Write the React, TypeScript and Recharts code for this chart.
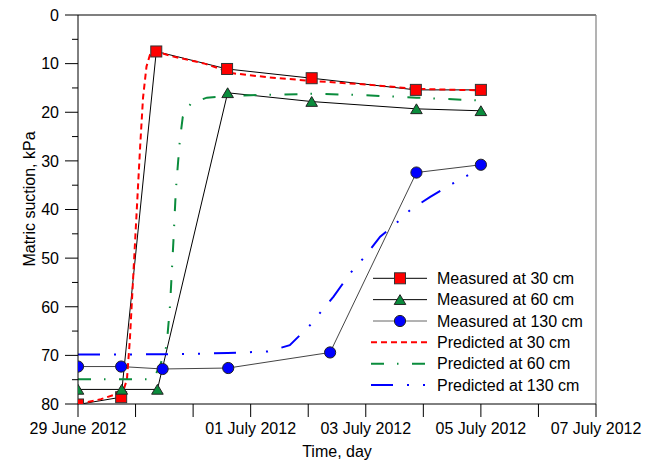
import React from 'react';
import { LineChart, Line, XAxis, YAxis, ReferenceLine, Legend } from 'recharts';

// ---- axis ticks ----
const xTicks = [0, 1, 2, 3, 4, 5, 6, 7, 8, 9];
const xTickLabels: Record<number, string> = {
  0: '29 June 2012',
  3: '01 July 2012',
  5: '03 July 2012',
  7: '05 July 2012',
  9: '07 July 2012',
};
const yTicks = [0, 5, 10, 15, 20, 25, 30, 35, 40, 45, 50, 55, 60, 65, 70, 75, 80];
const yMajorTicks = [0, 10, 20, 30, 40, 50, 60, 70, 80];

// ---- measured series (t = days from axis origin, v = kPa) ----
const measured30 = [
  { t: 0, v: 80.1 },
  { t: 0.75, v: 78.6 },
  { t: 1.36, v: 7.5 },
  { t: 2.59, v: 11.1 },
  { t: 4.06, v: 13.0 },
  { t: 5.87, v: 15.4 },
  { t: 7.0, v: 15.4 },
];
const measured60 = [
  { t: 0, v: 77.0 },
  { t: 0.76, v: 77.0 },
  { t: 1.38, v: 77.0 },
  { t: 2.6, v: 16.0 },
  { t: 4.06, v: 17.8 },
  { t: 5.88, v: 19.3 },
  { t: 7.0, v: 19.7 },
];
const measured130 = [
  { t: 0, v: 72.3 },
  { t: 0.75, v: 72.3 },
  { t: 1.47, v: 72.8 },
  { t: 2.61, v: 72.6 },
  { t: 4.38, v: 69.4 },
  { t: 5.88, v: 32.4 },
  { t: 7.0, v: 30.8 },
];

// ---- predicted series ----
const predicted30 = [
  { t: 0, v: 80 },
  { t: 0.4, v: 79.0 },
  { t: 0.78, v: 77.5 },
  { t: 0.85, v: 75 },
  { t: 0.9, v: 67 },
  { t: 1.08, v: 27 },
  { t: 1.13, v: 17 },
  { t: 1.19, v: 10.6 },
  { t: 1.25, v: 8.2 },
  { t: 1.34, v: 7.4 },
  { t: 1.6, v: 8.4 },
  { t: 2.2, v: 10.0 },
  { t: 2.7, v: 12.0 },
  { t: 3.3, v: 12.8 },
  { t: 4.0, v: 13.5 },
  { t: 5.0, v: 14.3 },
  { t: 5.88, v: 15.2 },
  { t: 7.0, v: 15.5 },
];
const predicted60 = [
  { t: 0, v: 74.9 },
  { t: 0.7, v: 74.9 },
  { t: 1.3, v: 74.9 },
  { t: 1.42, v: 72.3 },
  { t: 1.54, v: 68 },
  { t: 1.6, v: 59.6 },
  { t: 1.66, v: 46 },
  { t: 1.7, v: 36 },
  { t: 1.77, v: 25.7 },
  { t: 1.82, v: 21 },
  { t: 1.96, v: 18.2 },
  { t: 2.24, v: 17.0 },
  { t: 2.5, v: 16.8 },
  { t: 3.0, v: 16.5 },
  { t: 4.1, v: 16.2 },
  { t: 5.0, v: 16.5 },
  { t: 5.88, v: 17.0 },
  { t: 7.0, v: 17.6 },
];
const predicted130 = [
  { t: 0, v: 69.8 },
  { t: 1.0, v: 69.8 },
  { t: 2.0, v: 69.7 },
  { t: 2.6, v: 69.5 },
  { t: 3.3, v: 69.2 },
  { t: 3.68, v: 67.9 },
  { t: 4.03, v: 63.8 },
  { t: 4.44, v: 57.9 },
  { t: 4.73, v: 53.1 },
  { t: 4.96, v: 50.0 },
  { t: 5.25, v: 45.6 },
  { t: 5.59, v: 42.2 },
  { t: 5.77, v: 40.1 },
  { t: 6.12, v: 37.4 },
  { t: 6.52, v: 34.6 },
  { t: 6.78, v: 32.9 },
  { t: 7.0, v: 31.8 },
];

const legendLabels = [
  'Measured at 30 cm',
  'Measured at 60 cm',
  'Measured at 130 cm',
  'Predicted at 30 cm',
  'Predicted at 60 cm',
  'Predicted at 130 cm',
];

const RED = '#ff0000';
const GREEN = '#0a8c3c';
const BLUE = '#0000ff';
const FONT = '"Liberation Sans", Arial, sans-serif';
const DASH30 = '6 4';
const DASH60 = '13 13 1.5 13.5';
const DASH130 = '22 14 2 14 2 14';

const squareShape = (cx: number, cy: number, key?: string) => (
  <rect key={key} x={cx - 5.5} y={cy - 5.5} width={11} height={11} fill={RED} stroke="#333" strokeWidth={1} />
);
const triangleShape = (cx: number, cy: number, key?: string) => (
  <polygon
    key={key}
    points={`${cx},${cy - 5} ${cx + 5.8},${cy + 4.8} ${cx - 5.8},${cy + 4.8}`}
    fill={GREEN}
    stroke="#222"
    strokeWidth={1}
  />
);
const circleShape = (cx: number, cy: number, key?: string) => (
  <circle key={key} cx={cx} cy={cy} r={5.6} fill={BLUE} stroke="#222" strokeWidth={1} />
);

const SquareDot = (p: any) => (p.cx == null ? <g key={`sq${p.index}`} /> : squareShape(p.cx, p.cy, `sq${p.index}`));
const TriangleDot = (p: any) => (p.cx == null ? <g key={`tr${p.index}`} /> : triangleShape(p.cx, p.cy, `tr${p.index}`));
const CircleDot = (p: any) => (p.cx == null ? <g key={`ci${p.index}`} /> : circleShape(p.cx, p.cy, `ci${p.index}`));

const YTick = (props: any) => {
  const { x, y, payload } = props;
  const v = payload.value;
  const major = yMajorTicks.includes(v);
  const axisX = x + 19;
  return (
    <g>
      <line x1={major ? axisX - 13 : axisX - 6} x2={axisX} y1={y} y2={y} stroke="#000" strokeWidth={1} />
      {major && (
        <text x={x} y={y} dy="0.36em" textAnchor="end" fontSize={16} fill="#000" fontFamily={FONT}>
          {v}
        </text>
      )}
    </g>
  );
};

const YLabel = () => (
  <text
    x={34.5}
    y={199}
    transform="rotate(-90, 34.5, 199)"
    textAnchor="middle"
    fontSize={16}
    fill="#000"
    fontFamily={FONT}
  >
    Matric suction, kPa
  </text>
);

const LegendBox = () => {
  const rowY = (i: number) => 16.3 + i * 21.35;
  const x1 = 6;
  const x2 = 62;
  const mx = 35;
  const tx = 72;
  return (
    <svg width={280} height={140} style={{ display: 'block', overflow: 'visible' }}>
      <line x1={x1 + 2} x2={x2} y1={rowY(0)} y2={rowY(0)} stroke="#000" strokeWidth={1} />
      {squareShape(mx, rowY(0))}
      <line x1={x1 + 2} x2={x2} y1={rowY(1)} y2={rowY(1)} stroke="#000" strokeWidth={1} />
      {triangleShape(mx, rowY(1))}
      <line x1={x1 + 2} x2={x2} y1={rowY(2)} y2={rowY(2)} stroke="#666" strokeWidth={1} />
      {circleShape(mx, rowY(2))}
      <line x1={x1} x2={x2} y1={rowY(3)} y2={rowY(3)} stroke={RED} strokeWidth={2} strokeDasharray={DASH30} />
      <line x1={x1} x2={x2} y1={rowY(4)} y2={rowY(4)} stroke={GREEN} strokeWidth={2} strokeDasharray={DASH60} />
      <line x1={x1} x2={x2} y1={rowY(5)} y2={rowY(5)} stroke={BLUE} strokeWidth={2} strokeDasharray={DASH130} />
      {legendLabels.map((l, i) => (
        <text key={l} x={tx} y={rowY(i)} dy="0.36em" fontSize={16} fill="#000" fontFamily={FONT}>
          {l}
        </text>
      ))}
    </svg>
  );
};

export default function App() {
  return (
    <div style={{ position: 'absolute', left: 0, top: 0, width: 654, height: 463, background: '#fff' }}>
      <LineChart
        width={654}
        height={463}
        margin={{ top: 15, right: 58, left: 0, bottom: 0 }}
        style={{ fontFamily: FONT }}
      >
        <XAxis
          dataKey="t"
          type="number"
          domain={[0, 9]}
          ticks={xTicks}
          interval={0}
          allowDataOverflow
          tickSize={13}
          tickMargin={6}
          height={59}
          stroke="#000"
          tick={{ fill: '#000', fontSize: 16, fontFamily: FONT }}
          tickFormatter={(v: number) => xTickLabels[v] ?? ''}
          label={{ value: 'Time, day', position: 'insideBottom', offset: 6, fill: '#000', fontSize: 16, fontFamily: FONT }}
        />
        <YAxis
          type="number"
          domain={[0, 80]}
          reversed
          ticks={yTicks}
          interval={0}
          allowDataOverflow
          width={78}
          tickSize={13}
          tickMargin={6}
          tickLine={false}
          stroke="#000"
          tick={<YTick />}
          label={<YLabel />}
        />
        <ReferenceLine y={0} stroke="#000" strokeWidth={1.2} />
        <ReferenceLine x={9} stroke="#808080" strokeWidth={1.2} />
        <Line data={measured30} dataKey="v" name="Measured at 30 cm" stroke="#000" strokeWidth={1} isAnimationActive={false} dot={SquareDot} activeDot={false} />
        <Line data={measured60} dataKey="v" name="Measured at 60 cm" stroke="#000" strokeWidth={1} isAnimationActive={false} dot={TriangleDot} activeDot={false} />
        <Line data={measured130} dataKey="v" name="Measured at 130 cm" stroke="#444" strokeWidth={1} isAnimationActive={false} dot={CircleDot} activeDot={false} />
        <Line data={predicted30} dataKey="v" name="Predicted at 30 cm" stroke={RED} strokeWidth={2} strokeDasharray={DASH30} isAnimationActive={false} dot={false} activeDot={false} />
        <Line data={predicted60} dataKey="v" name="Predicted at 60 cm" stroke={GREEN} strokeWidth={2} strokeDasharray={DASH60} isAnimationActive={false} dot={false} activeDot={false} />
        <Line data={predicted130} dataKey="v" name="Predicted at 130 cm" stroke={BLUE} strokeWidth={2} strokeDasharray={DASH130} isAnimationActive={false} dot={false} activeDot={false} />
        <Legend
          layout="vertical"
          align="center"
          verticalAlign="middle"
          wrapperStyle={{ position: 'absolute', left: 365, top: 262, width: 280, height: 140 }}
          content={<LegendBox />}
        />
      </LineChart>
    </div>
  );
}
